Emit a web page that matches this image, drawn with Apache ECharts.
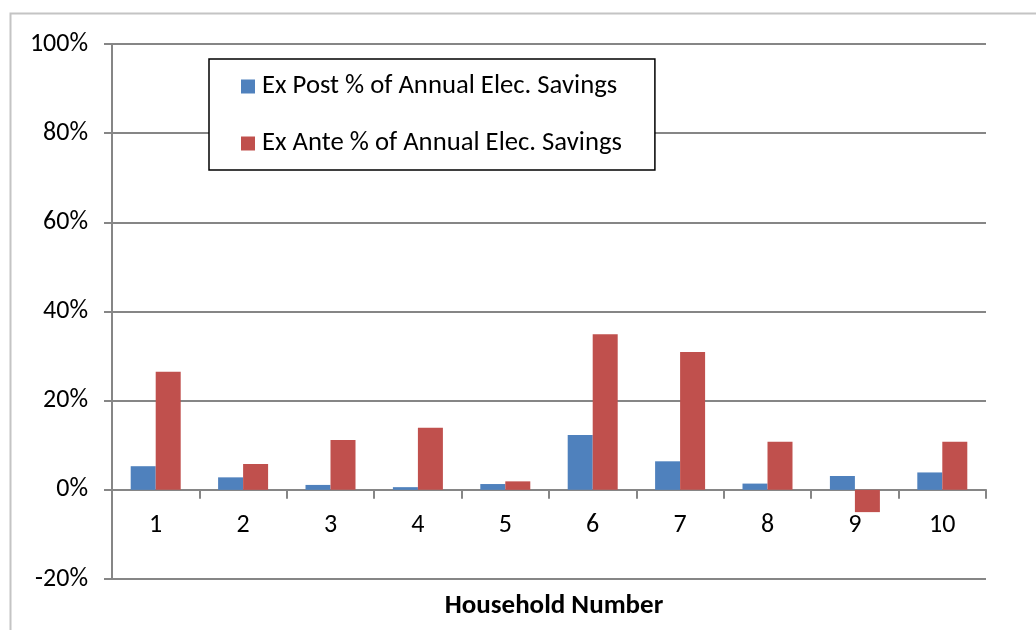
<!DOCTYPE html>
<html>
<head>
<meta charset="utf-8">
<script src="https://cdn.jsdelivr.net/npm/echarts@6/dist/echarts.min.js"></script>
<style>
html,body{margin:0;padding:0;background:#fff;}
#chart{width:1036px;height:630px;}
</style>
</head>
<body>
<div id="chart"></div>
<script>
const households = ['1','2','3','4','5','6','7','8','9','10'];
const exPostPct = [5.3, 2.8, 1.1, 0.6, 1.3, 12.3, 6.4, 1.4, 3.1, 3.9];
const exAntePct = [26.5, 5.8, 11.2, 13.9, 1.9, 34.9, 30.9, 10.8, -5.0, 10.8];
const seriesNames = ['Ex Post % of Annual Elec. Savings', 'Ex Ante % of Annual Elec. Savings'];
const xAxisTitle = 'Household Number';

const FONT = 'Carlito, Lato, "Liberation Sans", sans-serif';
const chart = echarts.init(document.getElementById('chart'), null, {renderer: 'canvas'});
chart.setOption({
  animation: false,
  backgroundColor: '#fff',
  graphic: [{
    type: 'rect', left: 8, top: 11, z: -10,
    shape: {width: 1100, height: 700},
    style: {fill: 'none', stroke: '#c4c4c4', lineWidth: 2}
  }],
  title: [{
    text: xAxisTitle, left: 549, top: 588, textAlign: 'center',
    textStyle: {fontFamily: FONT, fontSize: 27, fontWeight: 'bold', color: '#000'}
  }],
  legend: {
    orient: 'vertical', left: 209, top: 59,
    padding: [14, 33, 13, 32],
    itemWidth: 14, itemHeight: 14, itemGap: 30,
    borderColor: '#000', borderWidth: 1.5, backgroundColor: '#fff',
    textStyle: {fontFamily: FONT, fontSize: 26.7, lineHeight: 26, color: '#000', padding: [0,0,0,2]},
    data: seriesNames.map(n => ({name: n, icon: 'rect'}))
  },
  grid: {left: 112, right: 50, top: 44, bottom: 51},
  xAxis: {
    type: 'category', data: households,
    axisLine: {onZero: true, lineStyle: {color: '#868686', width: 2}},
    axisTick: {show: true, length: 9, lineStyle: {color: '#868686', width: 2}},
    axisLabel: {fontFamily: FONT, fontSize: 26, color: '#000', margin: -67}
  },
  yAxis: {
    type: 'value', min: -20, max: 100, interval: 20,
    axisLine: {show: true, lineStyle: {color: '#868686', width: 2}},
    axisTick: {show: true, length: 8, lineStyle: {color: '#868686', width: 2}},
    axisLabel: {fontFamily: FONT, fontSize: 26, color: '#000', margin: 24, formatter: '{value}%'},
    splitLine: {show: true, lineStyle: {color: '#868686', width: 2}}
  },
  series: [
    {name: seriesNames[0], type: 'bar', data: exPostPct, barWidth: 25, barGap: '0%',
     itemStyle: {color: '#4F81BD'}},
    {name: seriesNames[1], type: 'bar', data: exAntePct, barWidth: 25, barGap: '0%',
     itemStyle: {color: '#C0504D'}}
  ]
});
</script>
</body>
</html>
